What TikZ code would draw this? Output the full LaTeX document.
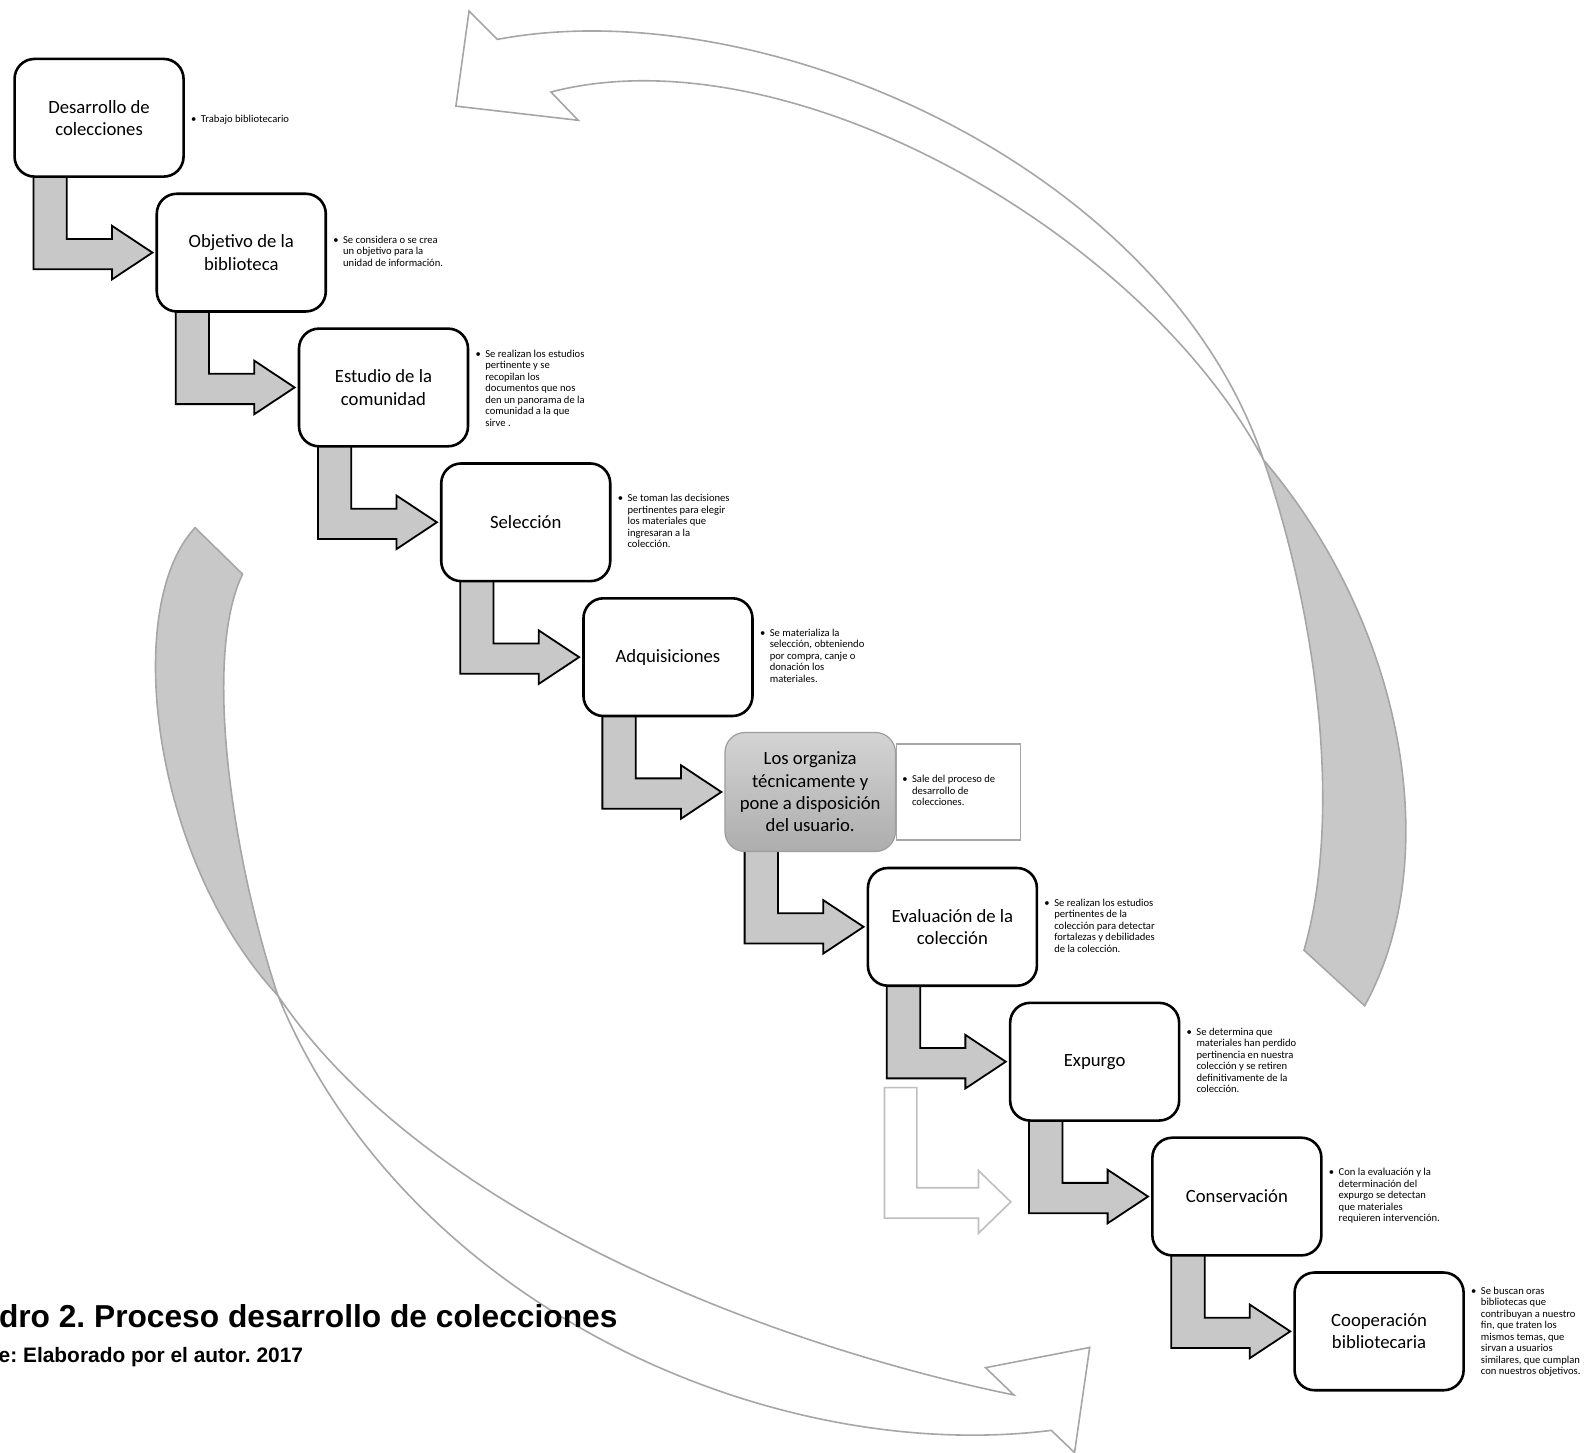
\documentclass[tikz,border=0pt]{standalone}
\usepackage{fontspec}
\setmainfont{Carlito}
\newfontfamily\capfont{Liberation Sans}
\usetikzlibrary{calc}
\definecolor{stepgrey}{RGB}{200,200,200}
\definecolor{ringline}{RGB}{166,166,166}
\definecolor{ringback}{RGB}{200,200,200}
\definecolor{ghostline}{RGB}{190,190,190}
\newcommand\sidelist[1]{\textbullet\hspace{4.5pt}\begin{tabular}[t]{@{}l@{}}#1\end{tabular}}
\newcommand\steparrow[2]{%
  \path ($(#1.south west)+(20,-4)$) coordinate (p1)
        ($(#1.south west)+(53,-4)$) coordinate (p2)
        ($(#2.north west)+(0,46)$) coordinate (q1)
        ($(#2.north west)+(0,76)$) coordinate (q2)
        ($(#2.north west)+(-43,33)$) coordinate (h1)
        ($(#2.north west)+(-43,86)$) coordinate (h2)
        ($(#2.west)+(-3,0)$) coordinate (tp);
  \draw[stepconn] (p1) -- (p1 |- q2) -- (h2 |- q2) -- (h2) -- (tp) -- (h1) -- (h1 |- q1) -- (p2 |- q1) -- (p2) -- cycle;}
\frenchspacing
\begin{document}
\begin{tikzpicture}[x=1.0108pt,y=-1.0108pt,
  mainbox/.style={draw=black, line width=2.6pt, fill=white, rounded corners=20pt,
    minimum width=169pt, minimum height=117.7pt, inner sep=0pt, align=center,
    font=\fontsize{18.7}{22.3}\selectfont},
  orgbox/.style={draw=black!38, line width=1.2pt, top color=black!17, bottom color=black!32,
    rounded corners=20pt, minimum width=170.5pt, minimum height=119pt, inner sep=0pt,
    align=center, font=\fontsize{18.7}{22.3}\selectfont},
  siderect/.style={draw=black!35, line width=1.3pt, fill=white, minimum width=124pt,
    minimum height=96pt, inner sep=0pt, anchor=west},
  sidetext/.style={inner sep=0pt, anchor=west, font=\fontsize{10.6}{11.5}\selectfont},
  stepconn/.style={draw=black, line width=1.8pt, fill=stepgrey, line join=miter},
  ghostconn/.style={draw=ghostline, line width=1.6pt, fill=white, line join=miter},
  bigarrow/.style={draw=ringline, line width=1.6pt, line join=miter},
  captext/.style={inner sep=0pt, anchor=base east}
]
\useasboundingbox (0,0) rectangle (1568,1437);

% ---- big curved arrows ----
\draw[bigarrow, fill=white] (492,39) -- (464,11) -- (451,105) -- (572,119) -- (545,91)
  .. controls (780,30) and (1130,230) .. (1250,455)
  .. controls (1150,160) and (750,-10) .. (492,39) -- cycle;
\draw[bigarrow, fill=ringback] (1250,455) .. controls (1390,620) and (1430,850) .. (1350,995)
  -- (1290,940) .. controls (1330,800) and (1300,600) .. (1250,455) -- cycle;
\draw[bigarrow, fill=white] (1040,1415) -- (1063,1437) -- (1078,1333) -- (975,1353) -- (1003,1380)
  .. controls (760,1330) and (420,1200) .. (275,985)
  .. controls (400,1290) and (760,1450) .. (1040,1415) -- cycle;
\draw[bigarrow, fill=ringback] (275,985) .. controls (150,850) and (120,600) .. (193,522)
  -- (240,568) .. controls (200,650) and (230,850) .. (275,985) -- cycle;

% ---- ghost arrow ----
\draw[ghostconn] (875,1076) -- (875,1205) -- (968,1205) -- (968,1220) -- (1000,1189)
  -- (968,1158) -- (968,1175) -- (907,1175) -- (907,1076) -- cycle;

% ---- boxes (positions) ----
\path (98,116.5) coordinate (c1) (238.7,249.9) coordinate (c2) (379.4,383.3) coordinate (c3)
  (520.1,516.7) coordinate (c4) (660.8,650.1) coordinate (c5) (801.5,783.5) coordinate (c6)
  (942.2,916.9) coordinate (c7) (1082.9,1050.3) coordinate (c8) (1223.6,1183.7) coordinate (c9)
  (1364.3,1317.1) coordinate (c10);
\foreach \i in {1,...,10} {\node[mainbox, draw=none, fill=none] (b\i) at (c\i) {};}
\steparrow{b1}{b2}
\steparrow{b2}{b3}
\steparrow{b3}{b4}
\steparrow{b4}{b5}
\steparrow{b5}{b6}
\steparrow{b6}{b7}
\steparrow{b7}{b8}
\steparrow{b8}{b9}
\steparrow{b9}{b10}

\node[mainbox] (n1) at (c1) {Desarrollo de\\colecciones};
\node[mainbox] (n2) at (c2) {Objetivo de la\\biblioteca};
\node[mainbox] (n3) at (c3) {Estudio de la\\comunidad};
\node[mainbox] (n4) at (c4) {Selección};
\node[mainbox] (n5) at (c5) {Adquisiciones};
\node[orgbox]  (n6) at (c6) {Los organiza\\técnicamente y\\pone a disposición\\del usuario.};
\node[mainbox] (n7) at (c7) {Evaluación de la\\colección};
\node[mainbox] (n8) at (c8) {Expurgo};
\node[mainbox] (n9) at (c9) {Conservación};
\node[mainbox] (n10) at (c10) {Cooperación\\bibliotecaria};

% ---- side texts ----
\node[sidetext] (s1) at ($(b1.east)+(6,2)$) {\sidelist{Trabajo bibliotecario}};
\node[sidetext] (s2) at ($(b2.east)+(6,0)$) {\sidelist{Se considera o se crea\\un objetivo para la\\unidad de información.}};
\node[sidetext] (s3) at ($(b3.east)+(6,2)$) {\sidelist{Se realizan los estudios\\pertinente y se\\recopilan los\\documentos que nos\\den un panorama de la\\comunidad a la que\\sirve .}};
\node[sidetext] (s4) at ($(b4.east)+(6,0)$) {\sidelist{Se toman las decisiones\\pertinentes para elegir\\los materiales que\\ingresaran a la\\colección.}};
\node[sidetext] (s5) at ($(b5.east)+(6,0)$) {\sidelist{Se materializa la\\selección, obteniendo\\por compra, canje o\\donación los\\materiales.}};
\node[siderect] (r6) at (n6.east) {};
\node[sidetext] (s6) at ($(r6.west)+(6,0)$) {\sidelist{Sale del proceso de\\desarrollo de\\colecciones.}};
\node[sidetext] (s7) at ($(b7.east)+(6,0)$) {\sidelist{Se realizan los estudios\\pertinentes de la\\colección para detectar\\fortalezas y debilidades\\de la colección.}};
\node[sidetext] (s8) at ($(b8.east)+(6,0)$) {\sidelist{Se determina que\\materiales han perdido\\pertinencia en nuestra\\colección y se retiren\\definitivamente de la\\colección.}};
\node[sidetext] (s9) at ($(b9.east)+(6,0)$) {\sidelist{Con la evaluación y la\\determinación del\\expurgo se detectan\\que materiales\\requieren intervención.}};
\node[sidetext] (s10) at ($(b10.east)+(6,1)$) {\sidelist{Se buscan oras\\bibliotecas que\\contribuyan a nuestro\\fin, que traten los\\mismos temas, que\\sirvan a usuarios\\similares, que cumplan\\con nuestros objetivos.}};

% ---- caption ----
\node[captext, font=\capfont\bfseries\fontsize{31.7}{36}\selectfont] (cap1) at (611,1313) {dro 2. Proceso desarrollo de colecciones};
\node[captext, font=\capfont\bfseries\fontsize{20.9}{24}\selectfont] (cap2) at (300,1348) {e: Elaborado por el autor. 2017};
\end{tikzpicture}
\end{document}
